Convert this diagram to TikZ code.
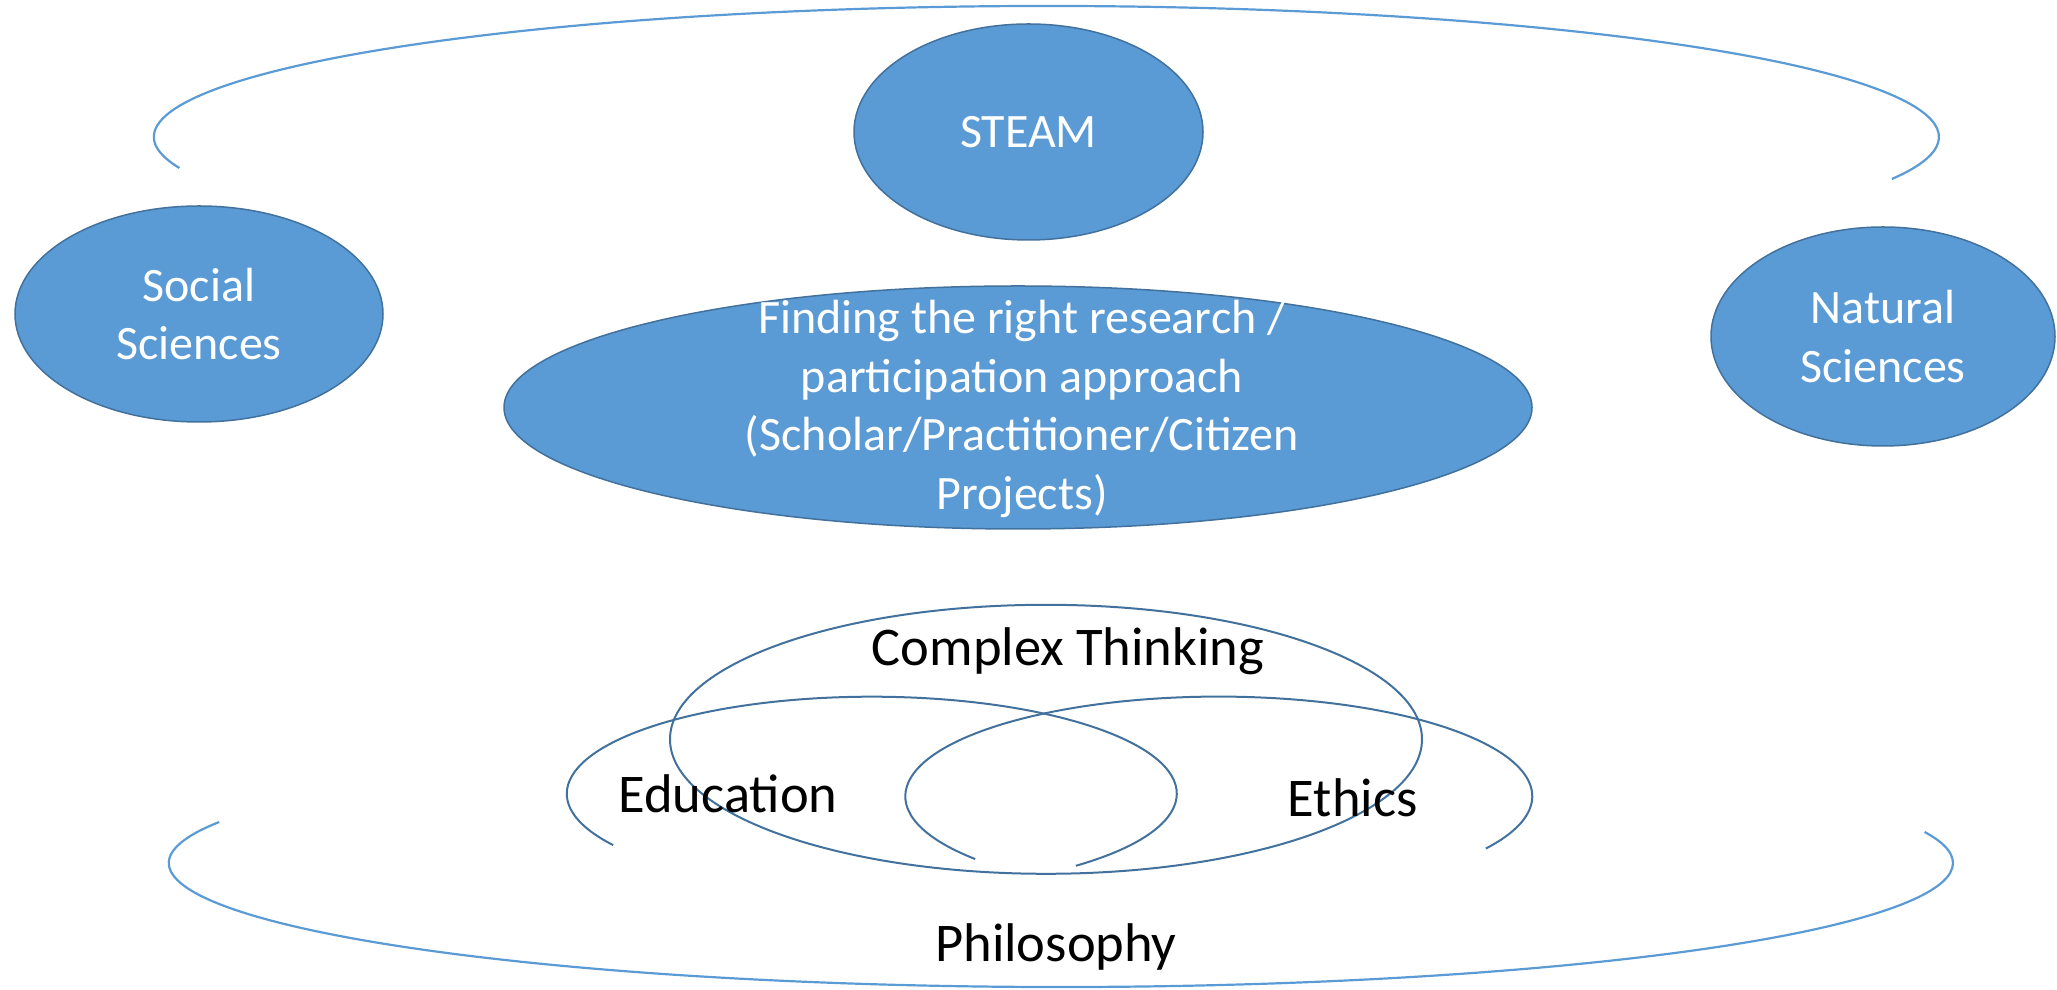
\documentclass[tikz,border=0pt]{standalone}
\usepackage{fontspec}
\setmainfont{Carlito}
\usetikzlibrary{shapes.geometric}
\definecolor{fillblue}{HTML}{5B9BD5}
\definecolor{edgeblue}{HTML}{41719C}
\definecolor{arcblue}{HTML}{5B9BD5}
\begin{document}
\begin{tikzpicture}[x=1pt,y=1pt,
  blob/.style={ellipse, fill=fillblue, draw=edgeblue, line width=1.5pt, inner sep=0pt, text=white, align=center, font=\fontsize{48}{58.6}\selectfont},
  whitetext/.style={text=white, align=center, inner sep=0pt, font=\fontsize{48}{58.6}\selectfont},
  outerarc/.style={draw=arcblue, line width=2.2pt},
  venn/.style={draw=edgeblue, line width=2pt},
  lbl/.style={font=\fontsize{54.5}{65}\selectfont, text=black, inner sep=0pt}]
\useasboundingbox (0,0) rectangle (2057,990);

% outer open arcs
\draw[outerarc, shift={(1046.5,853)}] (193.7:892.5 and 131) arc[start angle=193.7, end angle=-18.7, x radius=892.5, y radius=131];
\draw[outerarc, shift={(1061,127)}] (160.7:892 and 124) arc[start angle=160.7, end angle=374.5, x radius=892, y radius=124];

% filled ellipses
\node[blob, minimum width=349, minimum height=216] (steam) at (1028.5,858) {STEAM};
\node[blob, minimum width=368, minimum height=216] (social) at (199,676) {Social\\Sciences};
\node[blob, minimum width=344, minimum height=219] (natural) at (1883,653.5) {Natural\\Sciences};
\node[blob, minimum width=1028, minimum height=243] (finding) at (1018,582.5) {};
\node[whitetext] (findingtext) at (1022,581) {Finding the right research /\\participation approach\\(Scholar/Practitioner/Citizen\\Projects)};

% Venn
\node[venn, ellipse, inner sep=0pt, minimum width=752, minimum height=269] (complex) at (1046,250.7) {};
\draw[venn, shift={(871.8,196.3)}] (-48:305 and 97) arc[start angle=-48, end angle=212, x radius=305, y radius=97];
\draw[venn, shift={(1218.8,193.7)}] (219:313.5 and 99.7) arc[start angle=219, end angle=-31.6, x radius=313.5, y radius=99.7];

% labels
\node[lbl] (ct) at (1068,339) {Complex Thinking};
\node[lbl] (edu) at (728,196) {Education};
\node[lbl] (eth) at (1352.6,192.4) {Ethics};
\node[lbl] (phil) at (1056,43) {Philosophy};
\end{tikzpicture}
\end{document}
